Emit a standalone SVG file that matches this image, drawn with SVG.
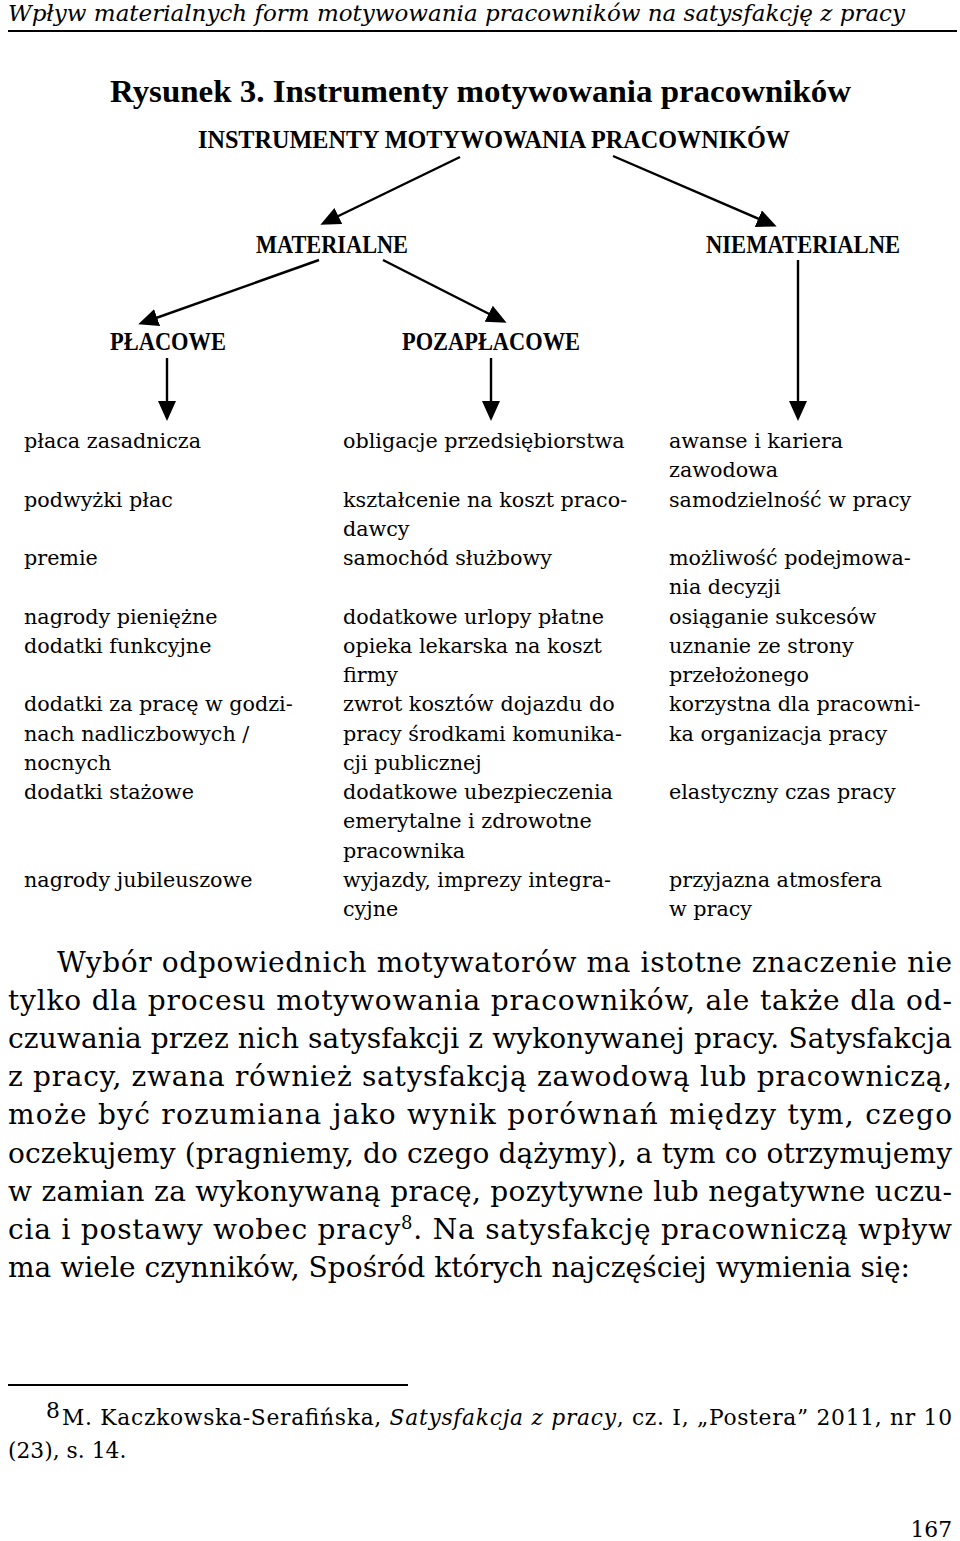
<svg xmlns="http://www.w3.org/2000/svg" width="960" height="1541" viewBox="0 0 960 1541">
<style>
text{fill:#000}
.hdr{font-family:"DejaVu Serif","Liberation Serif",serif;font-style:italic;font-size:22px}
.cap{font-family:"Liberation Serif","Times New Roman",serif;font-weight:bold;font-size:32px}
.nd{font-family:"Liberation Serif","Times New Roman",serif;font-weight:bold;font-size:25px}
.it{font-family:"DejaVu Serif","Liberation Serif",serif;font-size:20.7px}
.par{font-family:"DejaVu Serif","Liberation Serif",serif;font-size:28px}
.fn{font-family:"DejaVu Serif","Liberation Serif",serif;font-size:21.8px}
.con{stroke:#000;stroke-width:2.4;fill:none}
</style>
<defs>
<marker id="ah" markerUnits="userSpaceOnUse" markerWidth="22" markerHeight="20" refX="16" refY="9" orient="auto">
<path d="M0,0 L20,9 L0,18 z" fill="#000"/>
</marker>
</defs>
<rect width="960" height="1541" fill="#fff"/>

<g id="header">
<text class="hdr" x="8" y="21" textLength="897" lengthAdjust="spacingAndGlyphs">Wpływ materialnych form motywowania pracowników na satysfakcję z pracy</text>
<rect x="8" y="30" width="949" height="2" fill="#000"/>
</g>

<g id="caption">
<text class="cap" x="110" y="102" textLength="741" lengthAdjust="spacingAndGlyphs">Rysunek 3. Instrumenty motywowania pracowników</text>
</g>

<g id="node-instrumenty">
<text class="nd" x="198" y="148" textLength="592" lengthAdjust="spacingAndGlyphs">INSTRUMENTY MOTYWOWANIA PRACOWNIKÓW</text>
</g>
<g id="node-materialne">
<text class="nd" x="256" y="253" textLength="152" lengthAdjust="spacingAndGlyphs">MATERIALNE</text>
</g>
<g id="node-niematerialne">
<text class="nd" x="706" y="253" textLength="194" lengthAdjust="spacingAndGlyphs">NIEMATERIALNE</text>
</g>
<g id="node-placowe">
<text class="nd" x="110" y="350" textLength="116" lengthAdjust="spacingAndGlyphs">PŁACOWE</text>
</g>
<g id="node-pozaplacowe">
<text class="nd" x="402" y="350" textLength="178" lengthAdjust="spacingAndGlyphs">POZAPŁACOWE</text>
</g>

<g id="connectors">
<line class="con" x1="460" y1="157" x2="324" y2="223" marker-end="url(#ah)"/>
<line class="con" x1="613" y1="156" x2="773" y2="225" marker-end="url(#ah)"/>
<line class="con" x1="319" y1="260" x2="142" y2="323" marker-end="url(#ah)"/>
<line class="con" x1="383" y1="260" x2="503" y2="321" marker-end="url(#ah)"/>
<line class="con" x1="167" y1="358" x2="167" y2="417" marker-end="url(#ah)"/>
<line class="con" x1="491" y1="358" x2="491" y2="417" marker-end="url(#ah)"/>
<line class="con" x1="798" y1="260" x2="798" y2="417" marker-end="url(#ah)"/>
</g>

<g id="list-placowe">
<text class="it" x="24" y="448">płaca zasadnicza</text>
<text class="it" x="24" y="506.5">podwyżki płac</text>
<text class="it" x="24" y="565">premie</text>
<text class="it" x="24" y="623.5">nagrody pieniężne</text>
<text class="it" x="24" y="652.75">dodatki funkcyjne</text>
<text class="it" x="24" y="711.25">dodatki za pracę w godzi-</text>
<text class="it" x="24" y="740.5">nach nadliczbowych /</text>
<text class="it" x="24" y="769.75">nocnych</text>
<text class="it" x="24" y="799">dodatki stażowe</text>
<text class="it" x="24" y="886.75">nagrody jubileuszowe</text>
</g>

<g id="list-pozaplacowe">
<text class="it" x="343" y="448">obligacje przedsiębiorstwa</text>
<text class="it" x="343" y="506.5">kształcenie na koszt praco-</text>
<text class="it" x="343" y="535.75">dawcy</text>
<text class="it" x="343" y="565">samochód służbowy</text>
<text class="it" x="343" y="623.5">dodatkowe urlopy płatne</text>
<text class="it" x="343" y="652.75">opieka lekarska na koszt</text>
<text class="it" x="343" y="682">firmy</text>
<text class="it" x="343" y="711.25">zwrot kosztów dojazdu do</text>
<text class="it" x="343" y="740.5">pracy środkami komunika-</text>
<text class="it" x="343" y="769.75">cji publicznej</text>
<text class="it" x="343" y="799">dodatkowe ubezpieczenia</text>
<text class="it" x="343" y="828.25">emerytalne i zdrowotne</text>
<text class="it" x="343" y="857.5">pracownika</text>
<text class="it" x="343" y="886.75">wyjazdy, imprezy integra-</text>
<text class="it" x="343" y="916">cyjne</text>
</g>

<g id="list-niematerialne">
<text class="it" x="669" y="448">awanse i kariera</text>
<text class="it" x="669" y="477.25">zawodowa</text>
<text class="it" x="669" y="506.5">samodzielność w pracy</text>
<text class="it" x="669" y="565">możliwość podejmowa-</text>
<text class="it" x="669" y="594.25">nia decyzji</text>
<text class="it" x="669" y="623.5">osiąganie sukcesów</text>
<text class="it" x="669" y="652.75">uznanie ze strony</text>
<text class="it" x="669" y="682">przełożonego</text>
<text class="it" x="669" y="711.25">korzystna dla pracowni-</text>
<text class="it" x="669" y="740.5">ka organizacja pracy</text>
<text class="it" x="669" y="799">elastyczny czas pracy</text>
<text class="it" x="669" y="886.75">przyjazna atmosfera</text>
<text class="it" x="669" y="916">w pracy</text>
</g>

<g id="paragraph">
<text class="par" x="57" y="971.5" textLength="895" lengthAdjust="spacing">Wybór odpowiednich motywatorów ma istotne znaczenie nie</text>
<text class="par" x="8" y="1009.7" textLength="944" lengthAdjust="spacing">tylko dla procesu motywowania pracowników, ale także dla od-</text>
<text class="par" x="8" y="1047.9" textLength="944" lengthAdjust="spacing">czuwania przez nich satysfakcji z wykonywanej pracy. Satysfakcja</text>
<text class="par" x="8" y="1086.1" textLength="944" lengthAdjust="spacing">z pracy, zwana również satysfakcją zawodową lub pracowniczą,</text>
<text class="par" x="8" y="1124.3" textLength="944" lengthAdjust="spacing">może być rozumiana jako wynik porównań między tym, czego</text>
<text class="par" x="8" y="1162.5" textLength="944" lengthAdjust="spacing">oczekujemy (pragniemy, do czego dążymy), a tym co otrzymujemy</text>
<text class="par" x="8" y="1200.7" textLength="944" lengthAdjust="spacing">w zamian za wykonywaną pracę, pozytywne lub negatywne uczu-</text>
<text class="par" x="8" y="1238.9" textLength="944" lengthAdjust="spacing">cia i postawy wobec pracy<tspan font-size="18" dy="-10">8</tspan><tspan dy="10">. Na satysfakcję pracowniczą wpływ</tspan></text>
<text class="par" x="8" y="1277.1" textLength="902" lengthAdjust="spacing">ma wiele czynników, Spośród których najczęściej wymienia się:</text>
</g>

<g id="footnote">
<rect x="8" y="1384" width="400" height="2" fill="#000"/>
<text class="fn" x="46" y="1418" font-size="15">8</text>
<text class="fn" x="62" y="1425" textLength="890" lengthAdjust="spacing">M. Kaczkowska-Serafińska, <tspan font-style="italic">Satysfakcja z pracy</tspan>, cz. I, „Postera” 2011, nr 10</text>
<text class="fn" x="8" y="1458">(23), s. 14.</text>
</g>

<g id="page-number">
<text class="fn" x="952" y="1537" font-size="24" text-anchor="end">167</text>
</g>
</svg>
